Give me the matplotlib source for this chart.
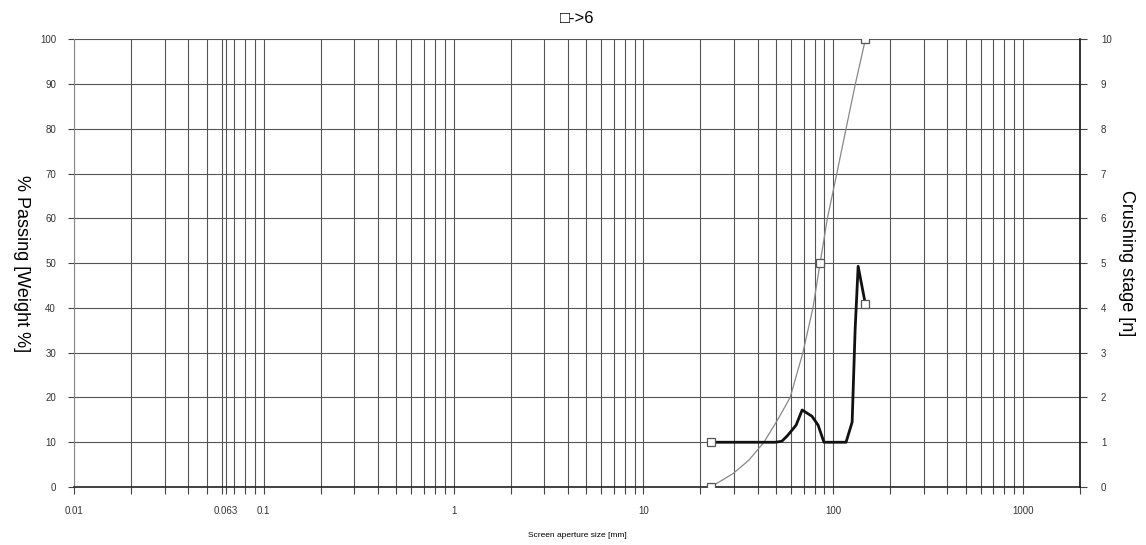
import numpy as np
import matplotlib
matplotlib.use("Agg")
import matplotlib.pyplot as plt

plt.rcParams['font.family'] = ['Liberation Sans', 'DejaVu Sans']

# Passing curve (left axis, %)
pass_size = [22.6, 25.5, 29.7, 36, 43.2, 51, 59.4, 69.3, 78.3, 85.4, 93.3, 104.6, 117, 131, 148]
pass_pct = [0, 1.3, 3, 6, 10, 15, 20, 30, 40, 50, 60, 70, 80, 90, 100]
pass_mark_size = [22.6, 85.4, 148]
pass_mark_pct = [0, 50, 100]

# Crushing stage curve (right axis)
stage_size = [22.6, 49.5, 53.6, 57.3, 63.8, 68.7, 77.4, 83.4, 89.5, 117, 126, 130.6, 135.5, 148]
stage_n = [1.0, 1.0, 1.02, 1.14, 1.38, 1.72, 1.58, 1.38, 1.0, 1.0, 1.45, 3.5, 4.93, 4.08]
stage_mark_size = [22.6, 148]
stage_mark_n = [1.0, 4.08]

xticks_major = [0.01, 0.063, 0.1, 1, 10, 100, 1000]
xtick_labels = ["0.01", "0.063", "0.1", "1", "10", "100", "1000"]

fig = plt.figure(figsize=(11.46, 5.45), dpi=100)
ax = fig.add_axes([0.0646, 0.1064, 0.8778, 0.8216])
ax.set_xscale("log")
ax.set_xlim(0.01, 2000)
ax.set_ylim(0, 100)

minor = []
for dec in [0.01, 0.1, 1, 10, 100, 1000]:
    for m in range(2, 10):
        v = dec * m
        if v <= 2000 and v not in xticks_major:
            minor.append(v)
ax.set_xticks(xticks_major)
ax.set_xticklabels(xtick_labels)
ax.set_xticks(minor, minor=True)
ax.xaxis.set_minor_formatter(matplotlib.ticker.NullFormatter())
ax.set_yticks(np.arange(0, 101, 10))

ax.grid(True, which="both", axis="x", color="#555555", lw=0.8)
ax.grid(True, which="major", axis="y", color="#555555", lw=0.8)
ax.set_axisbelow(True)

ax.tick_params(axis="both", which="both", labelsize=7, labelcolor="#333333",
               color="#444444", length=4.5, width=0.8)
ax.tick_params(axis="y", pad=8.5)
ax.tick_params(axis="x", which="both", length=5, pad=8.5)

for s in ["top", "right"]:
    ax.spines[s].set_visible(False)
ax.spines["left"].set_color("#888888")
ax.spines["bottom"].set_color("#222222")
ax.spines["bottom"].set_linewidth(1.2)

ax.plot(pass_size, pass_pct, color="#888888", lw=0.9, zorder=3)
ax.plot(pass_mark_size, pass_mark_pct, ls="none", marker="s", ms=6, mfc="white",
        mec="#555555", mew=0.9, zorder=4)

ax2 = ax.twinx()
ax2.set_ylim(0, 10)
ax2.set_yticks(np.arange(0, 11, 1))
ax2.tick_params(axis="y", labelsize=7, labelcolor="#333333", color="#444444",
                length=5, width=0.8, pad=10)
for s in ["top", "left", "bottom"]:
    ax2.spines[s].set_visible(False)
ax2.spines["right"].set_color("#111111")
ax2.spines["right"].set_linewidth(1.2)
ax2.plot(stage_size, stage_n, color="#111111", lw=2, zorder=3)
ax2.plot(stage_mark_size, stage_mark_n, ls="none", marker="s", ms=6, mfc="white",
         mec="#555555", mew=0.9, zorder=4)

ax.set_title("\u25a1->6", fontsize=12, pad=12)
ax.set_ylabel("% Passing [Weight %]", fontsize=13, rotation=270, labelpad=19)
ax2.set_ylabel("Crushing stage [n]", fontsize=13, rotation=270, labelpad=17)
ax.set_xlabel("Screen aperture size [mm]", fontsize=6, labelpad=12)

fig.savefig("out.png", dpi=100)
